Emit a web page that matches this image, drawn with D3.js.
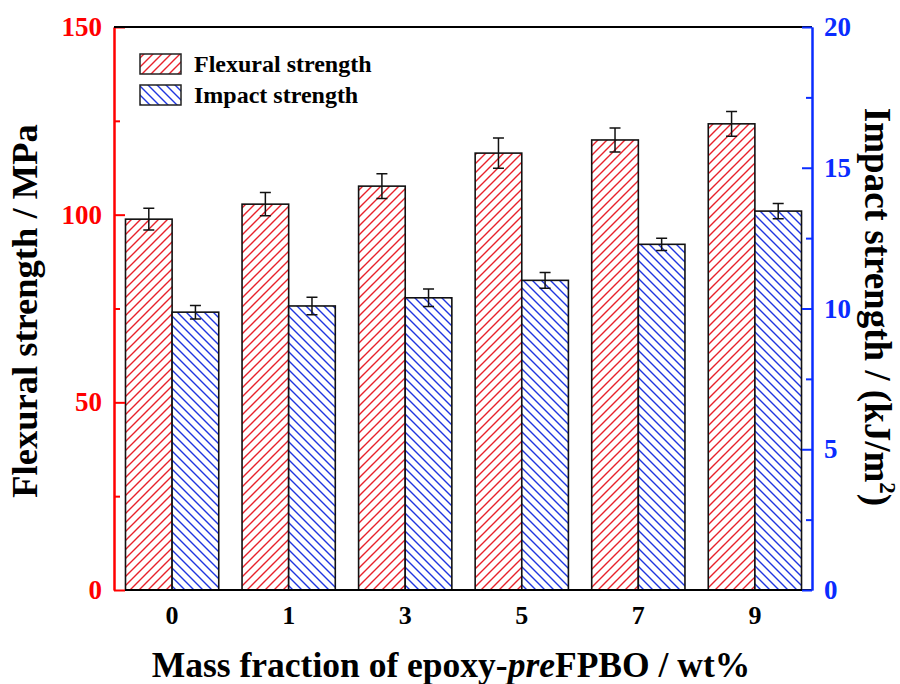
<!DOCTYPE html>
<html><head><meta charset="utf-8">
<script src="https://cdn.jsdelivr.net/npm/d3@7"></script>
<style>body{margin:0;background:#fff}svg{display:block}</style>
</head><body>
<svg id="c" width="900" height="684"></svg>
<script>
const categories = ["0","1","3","5","7","9"];
const flexural = [98.8, 102.8, 107.6, 116.4, 119.9, 124.2];
const flexuralErr = [2.9, 3.1, 3.3, 4.0, 3.2, 3.3];
const impact = [9.87, 10.09, 10.38, 11.0, 12.28, 13.46];
const impactErr = [0.24, 0.31, 0.31, 0.28, 0.22, 0.27];
const leftTicks = [0, 50, 100, 150];
const leftMinor = [25, 75, 125];
const rightTicks = [0, 5, 10, 15, 20];
const rightMinor = [2.5, 7.5, 12.5, 17.5];
const seriesNames = ["Flexural strength", "Impact strength"];

const FONT = '"Liberation Serif"';
const RED = "#ff0000", BLUE = "#0a2cff", HRED = "#e8212b", HBLUE = "#1f36e0";
const L = 114, R = 812, T = 27, B = 590;
const svg = d3.select("#c");
function ft(sel, size) { return sel.style("font-family", FONT).style("font-weight","bold").style("font-size", size + "px"); }

const defs = svg.append("defs");
const p1 = defs.append("pattern").attr("id","hr").attr("patternUnits","userSpaceOnUse").attr("width",9).attr("height",9);
p1.append("rect").attr("width",9).attr("height",9).attr("fill","#fff");
p1.append("path").attr("d","M0,9L9,0M-2,2L2,-2M7,11L11,7").attr("stroke",HRED).attr("stroke-width",1.4);
const p2 = defs.append("pattern").attr("id","hb").attr("patternUnits","userSpaceOnUse").attr("width",9).attr("height",9);
p2.append("rect").attr("width",9).attr("height",9).attr("fill","#fff");
p2.append("path").attr("d","M0,0L9,9M-2,7L2,11M7,-2L11,2").attr("stroke",HBLUE).attr("stroke-width",1.4);

const x = d3.scaleBand().domain(categories).range([115, R]).paddingInner(0.2).paddingOuter(0.09);
const xs = d3.scaleBand().domain([0,1]).range([0, x.bandwidth()]);
const yL = d3.scaleLinear().domain([0,150]).range([B, T]);
const yR = d3.scaleLinear().domain([0,20]).range([B, T]);

const series = [
  {vals: flexural, err: flexuralErr, y: yL, fill: "url(#hr)"},
  {vals: impact, err: impactErr, y: yR, fill: "url(#hb)"}
];

series.forEach((s, si) => {
  const g = svg.append("g");
  categories.forEach((c, i) => {
    const x0 = x(c) + xs(si), w = xs.bandwidth();
    g.append("rect").attr("x", x0).attr("y", s.y(s.vals[i])).attr("width", w)
      .attr("height", B - s.y(s.vals[i])).attr("fill", s.fill).attr("stroke","#111").attr("stroke-width",1.6);
    const cx = x0 + w/2, hi = s.y(s.vals[i] + s.err[i]), lo = s.y(s.vals[i] - s.err[i]);
    g.append("path").attr("d", `M${cx},${hi}V${lo}M${cx-5.5},${hi}H${cx+5.5}M${cx-5.5},${lo}H${cx+5.5}`)
      .attr("stroke","#111").attr("stroke-width",1.5).attr("fill","none");
  });
});

// x tick labels
ft(svg.append("g").selectAll("text").data(categories).join("text")
  .attr("x", d => x(d) + x.bandwidth()/2).attr("y", 624).attr("text-anchor","middle")
  .attr("fill","#000").text(d => d), 26);

// left axis
const la = svg.append("g").attr("transform",`translate(${L},0)`)
  .call(d3.axisLeft(yL).tickValues(leftTicks).tickSize(-11).tickSizeOuter(0).tickPadding(12));
ft(la.selectAll("text").attr("fill",RED), 27);
const lm = svg.append("g").attr("transform",`translate(${L},0)`)
  .call(d3.axisLeft(yL).tickValues(leftMinor).tickSize(-6).tickSizeOuter(0).tickFormat(""));
[la, lm].forEach(a => { a.selectAll("line,path").attr("stroke",RED).attr("stroke-width",2); });

// frame
svg.append("line").attr("x1",L).attr("x2",R).attr("y1",T).attr("y2",T).attr("stroke","#000").attr("stroke-width",2);
svg.append("line").attr("x1",125).attr("x2",R).attr("y1",B).attr("y2",B).attr("stroke","#000").attr("stroke-width",2);

// right axis
const ra = svg.append("g").attr("transform",`translate(${R},0)`)
  .call(d3.axisRight(yR).tickValues(rightTicks).tickSize(-10).tickSizeOuter(0).tickPadding(12));
ft(ra.selectAll("text").attr("fill",BLUE), 27);
const rm = svg.append("g").attr("transform",`translate(${R},0)`)
  .call(d3.axisRight(yR).tickValues(rightMinor).tickSize(-6).tickSizeOuter(0).tickFormat(""));
[ra, rm].forEach(a => { a.selectAll("line,path").attr("stroke",BLUE).attr("stroke-width",2); });

// legend
const lg = svg.append("g");
seriesNames.forEach((n, i) => {
  lg.append("rect").attr("x",140).attr("y",54 + i*31).attr("width",41).attr("height",20)
    .attr("fill", series[i].fill).attr("stroke","#222").attr("stroke-width",1.5);
  ft(lg.append("text").attr("x",194).attr("y",72 + i*31).attr("fill","#000").text(n), 24);
});

// axis titles
const xt = ft(svg.append("text").attr("x",451).attr("y",677).attr("text-anchor","middle").attr("fill","#000"), 35.5);
xt.append("tspan").text("Mass fraction of epoxy-");
xt.append("tspan").style("font-style","italic").text("pre");
xt.append("tspan").text("FPBO / wt%");

ft(svg.append("text").attr("transform","translate(37,311) rotate(-90)").attr("text-anchor","middle")
  .attr("fill","#000").text("Flexural strength / MPa"), 36.5);

const rt = ft(svg.append("text").attr("transform","translate(865,307) rotate(90)").attr("text-anchor","middle")
  .attr("fill","#000"), 37);
rt.append("tspan").text("Impact strength / (kJ/m");
rt.append("tspan").style("font-size","23px").attr("dy",-15).text("2");
rt.append("tspan").attr("dy",15).text(")");
</script>
</body></html>
